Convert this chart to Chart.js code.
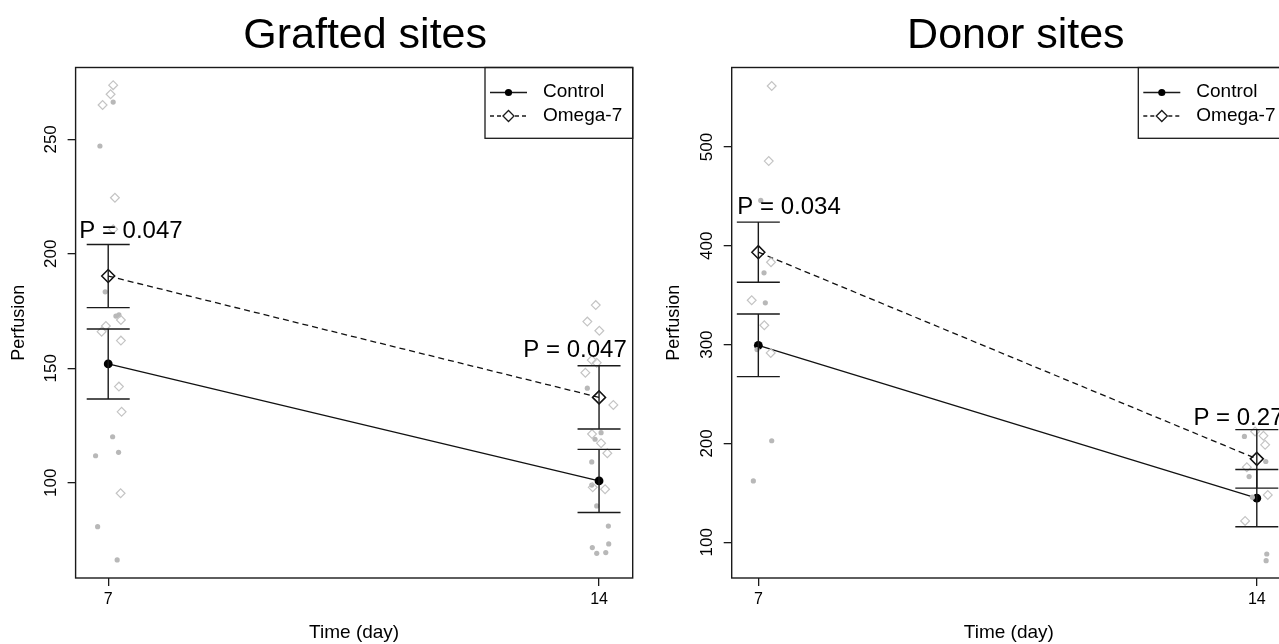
<!DOCTYPE html>
<html>
<head>
<meta charset="utf-8">
<script src="https://cdn.jsdelivr.net/npm/chart.js@4.4.1/dist/chart.umd.min.js"></script>
<style>
  html, body { margin: 0; padding: 0; background: #fff; overflow: hidden; width: 1279px; height: 644px; }
  #graftChart { position: absolute; left: 0; top: 0; }
  #donorChart { position: absolute; left: 655px; top: 0; }
</style>
</head>
<body>
<canvas id="graftChart" width="655" height="644"></canvas>
<canvas id="donorChart" width="700" height="644"></canvas>
<script>
var days = [7, 14];
var xTicks = [7, 14];

// Grafted sites
var graftYTicks = [100, 150, 200, 250];
var graftCtrlMean = [151.9, 100.8];
var graftCtrlSe = [15.3, 13.8];
var graftOmegaMean = [190.3, 137.3];
var graftOmegaSe = [13.8, 13.8];
var graftP = ["P = 0.047", "P = 0.047"];
var graftCtrlRaw = [
  [7.071, 266.3], [6.882, 247.1], [6.957, 183.4], [7.110, 172.8], [7.153, 173.3],
  [7.063, 120.1], [6.820, 111.8], [7.148, 113.3], [6.849, 80.8], [7.128, 66.3],
  [13.833, 141.3], [14.029, 121.9], [13.943, 119.0], [13.896, 109.1], [13.896, 99.0],
  [13.967, 89.9], [14.133, 81.1], [13.904, 71.7], [13.967, 69.2], [14.096, 69.5], [14.138, 73.3]
];
var graftOmegaRaw = [
  [7.071, 273.7], [7.034, 269.7], [6.920, 265.0], [7.096, 224.5], [7.071, 210.7],
  [6.967, 168.5], [6.906, 166.0], [7.181, 171.1], [7.181, 162.1], [7.153, 142.0],
  [7.191, 131.0], [7.177, 95.4],
  [13.953, 177.6], [13.833, 170.4], [14.004, 166.4], [13.896, 153.6], [13.967, 152.4],
  [13.805, 148.1], [14.204, 134.0], [13.900, 121.3], [14.029, 117.3], [14.118, 112.9],
  [13.910, 98.0], [14.086, 97.2]
];

// Donor sites
var donorYTicks = [100, 200, 300, 400, 500];
var donorCtrlMean = [299.3, 144.6];
var donorCtrlSe = [31.7, 29.0];
var donorOmegaMean = [393.6, 184.4];
var donorOmegaSe = [30.4, 29.6];
var donorP = ["P = 0.034", "P = 0.27"];
var donorCtrlRaw = [
  [7.034, 446.0], [7.080, 372.7], [7.098, 342.3], [6.982, 295.0], [7.188, 202.7], [6.930, 162.1],
  [13.826, 207.1], [14.126, 181.7], [13.892, 166.5], [13.938, 145.6], [14.140, 88.1], [14.131, 81.3]
];
var donorOmegaRaw = [
  [7.188, 561.8], [7.146, 485.8], [7.178, 383.4], [6.907, 344.9], [7.084, 319.6], [7.174, 291.6],
  [13.976, 212.1], [14.093, 207.7], [14.117, 198.6], [13.860, 176.0], [14.154, 147.9], [13.836, 121.6]
];

var FONT = "'Liberation Sans', Arial, sans-serif";

var decor = {
  id: "decor",
  afterDatasetsDraw: function (chart, args, o) {
    var ctx = chart.ctx, xs = chart.scales.x, ys = chart.scales.y;
    ctx.save();
    ctx.strokeStyle = "#1a1a1a";
    ctx.lineWidth = 1.4;
    o.errors.forEach(function (g) {
      days.forEach(function (d, i) {
        var px = xs.getPixelForValue(d);
        var hi = ys.getPixelForValue(g.mean[i] + g.se[i]);
        var lo = ys.getPixelForValue(g.mean[i] - g.se[i]);
        ctx.beginPath();
        ctx.moveTo(px, hi); ctx.lineTo(px, lo);
        ctx.moveTo(px - 21.5, hi); ctx.lineTo(px + 21.5, hi);
        ctx.moveTo(px - 21.5, lo); ctx.lineTo(px + 21.5, lo);
        ctx.stroke();
      });
    });
    ctx.restore();
  },
  afterDraw: function (chart, args, o) {
    var ctx = chart.ctx, ca = chart.chartArea, xs = chart.scales.x, ys = chart.scales.y;
    ctx.save();
    // plot box
    ctx.strokeStyle = "#1a1a1a";
    ctx.lineWidth = 1.4;
    ctx.strokeRect(ca.left, ca.top, ca.right - ca.left, ca.bottom - ca.top);

    // title
    ctx.fillStyle = "#000";
    ctx.font = "43px " + FONT;
    ctx.textAlign = "center";
    ctx.textBaseline = "alphabetic";
    ctx.fillText(o.title, (ca.left + ca.right) / 2 + o.titleDx, 48);

    // P labels, above the highest cap
    ctx.font = "24px " + FONT;
    ctx.textAlign = "left";
    days.forEach(function (d, i) {
      var top = -Infinity;
      o.errors.forEach(function (g) { top = Math.max(top, g.mean[i] + g.se[i]); });
      ctx.fillText(o.pText[i], xs.getPixelForValue(d) + o.pDx[i], ys.getPixelForValue(top) + o.pDy[i]);
    });

    // legend
    var W = 147.7, H = 70.8, L = ca.right - W, T = ca.top;
    ctx.lineWidth = 1.3;
    ctx.strokeRect(L, T, W, H);
    var r1 = T + 25, r2 = T + 48.5;
    ctx.beginPath();
    ctx.moveTo(L + 5, r1); ctx.lineTo(L + 42, r1);
    ctx.stroke();
    ctx.beginPath();
    ctx.arc(L + 23.5, r1, 3.6, 0, Math.PI * 2);
    ctx.fillStyle = "#000";
    ctx.fill();
    ctx.setLineDash([4, 3]);
    ctx.beginPath();
    ctx.moveTo(L + 5, r2); ctx.lineTo(L + 17, r2);
    ctx.moveTo(L + 30, r2); ctx.lineTo(L + 42, r2);
    ctx.stroke();
    ctx.setLineDash([]);
    ctx.beginPath();
    ctx.moveTo(L + 23.5 - 5.5, r2); ctx.lineTo(L + 23.5, r2 - 5.5);
    ctx.lineTo(L + 23.5 + 5.5, r2); ctx.lineTo(L + 23.5, r2 + 5.5);
    ctx.closePath();
    ctx.stroke();
    ctx.font = "19px " + FONT;
    ctx.textBaseline = "middle";
    ctx.fillText("Control", L + 58, r1 - 1);
    ctx.fillText("Omega-7", L + 58, r2);
    ctx.restore();
  }
};

function pts(arr) {
  return arr.map(function (p) { return { x: p[0], y: p[1] }; });
}
function meanPts(m) {
  return days.map(function (d, i) { return { x: d, y: m[i] }; });
}

function makeChart(el, c) {
  return new Chart(el, {
    type: "scatter",
    data: {
      datasets: [
        { data: pts(c.omegaRaw), pointStyle: "rectRot", pointRadius: 4.4, backgroundColor: "rgba(0,0,0,0)", borderColor: "#c4c4c4", borderWidth: 1.2 },
        { data: pts(c.ctrlRaw), pointStyle: "circle", pointRadius: 2.6, backgroundColor: "#b8b8b8", borderWidth: 0 },
        { type: "line", data: meanPts(c.ctrlMean), borderColor: "#111", borderWidth: 1.3, fill: false,
          pointStyle: "circle", pointRadius: 4.4, pointBackgroundColor: "#000", pointBorderWidth: 0 },
        { type: "line", data: meanPts(c.omegaMean), borderColor: "#111", borderWidth: 1.3, borderDash: [6, 4], fill: false,
          pointStyle: "rectRot", pointRadius: 6.5, pointBackgroundColor: "rgba(0,0,0,0)", pointBorderColor: "#111", pointBorderWidth: 1.5 }
      ]
    },
    options: {
      responsive: false,
      animation: false,
      layout: { padding: { left: 0, right: c.padRight, top: 67.5, bottom: 0 } },
      plugins: {
        legend: { display: false },
        title: { display: false },
        tooltip: { enabled: false },
        decor: {
          title: c.title, titleDx: c.titleDx,
          pText: c.pText, pDx: c.pDx, pDy: c.pDy,
          errors: [{ mean: c.ctrlMean, se: c.ctrlSe }, { mean: c.omegaMean, se: c.omegaSe }]
        }
      },
      scales: {
        x: {
          type: "linear", min: c.xMin, max: c.xMax,
          afterBuildTicks: function (s) { s.ticks = xTicks.map(function (v) { return { value: v }; }); },
          afterFit: function (s) { s.height = 66; },
          grid: { drawOnChartArea: false, drawTicks: true, tickLength: 8, color: "#1a1a1a", lineWidth: 1.3 },
          border: { display: false },
          ticks: { color: "#000", font: { size: 16, family: FONT }, padding: 4, autoSkip: false, maxRotation: 0 },
          title: { display: true, text: "Time (day)", color: "#000", font: { size: 19, family: FONT }, padding: { top: 0, bottom: 0 } }
        },
        y: {
          type: "linear", min: c.yMin, max: c.yMax,
          afterBuildTicks: function (s) { s.ticks = c.yTicks.map(function (v) { return { value: v }; }); },
          afterFit: function (s) { s.width = c.yWidth; },
          grid: { drawOnChartArea: false, drawTicks: true, tickLength: 8, color: "#1a1a1a", lineWidth: 1.3 },
          border: { display: false },
          ticks: { color: "#000", font: { size: 17, family: FONT }, padding: 2.5, autoSkip: false,
            minRotation: 90, maxRotation: 90, crossAlign: "center" },
          title: { display: true, text: "Perfusion", color: "#000", font: { size: 18, family: FONT }, padding: { top: 8, bottom: 0 } }
        }
      }
    },
    plugins: [decor]
  });
}

window.addEventListener("load", function () {
  makeChart(document.getElementById("graftChart"), {
    title: "Grafted sites", titleDx: 11,
    xMin: 6.535, xMax: 14.48, yMin: 58.4, yMax: 281.4, yTicks: graftYTicks,
    yWidth: 75.6, padRight: 22.3,
    ctrlMean: graftCtrlMean, ctrlSe: graftCtrlSe, omegaMean: graftOmegaMean, omegaSe: graftOmegaSe,
    ctrlRaw: graftCtrlRaw, omegaRaw: graftOmegaRaw,
    pText: graftP, pDx: [-29, -75.7], pDy: [-6, -9]
  });
  makeChart(document.getElementById("donorChart"), {
    title: "Donor sites", titleDx: 7,
    xMin: 6.626, xMax: 14.41, yMin: 63.8, yMax: 580.5, yTicks: donorYTicks,
    yWidth: 76.7, padRight: 69,
    ctrlMean: donorCtrlMean, ctrlSe: donorCtrlSe, omegaMean: donorOmegaMean, omegaSe: donorOmegaSe,
    ctrlRaw: donorCtrlRaw, omegaRaw: donorOmegaRaw,
    pText: donorP, pDx: [-21, -63.4], pDy: [-8, -5]
  });
});
</script>
</body>
</html>
